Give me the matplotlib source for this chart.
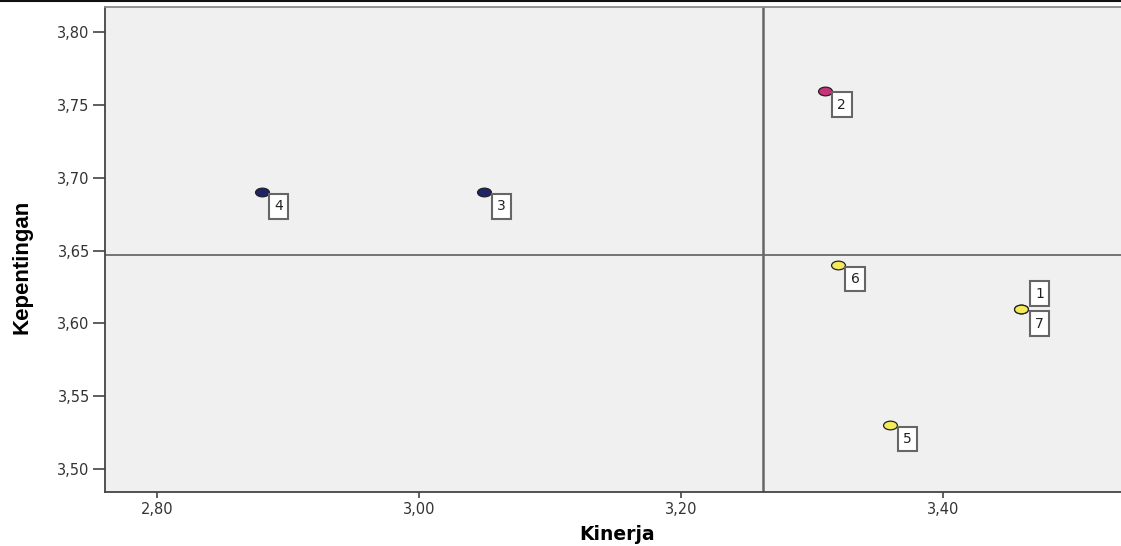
import numpy as np
import matplotlib.pyplot as plt
from matplotlib.path import Path
from matplotlib.transforms import Affine2D
from matplotlib.lines import Line2D

# Data (Importance-Performance analysis)
labels = ['1', '2', '3', '4', '5', '6', '7']
kinerja = [3.46, 3.31, 3.05, 2.88, 3.36, 3.32, 3.46]
kepentingan = [3.61, 3.76, 3.69, 3.69, 3.53, 3.64, 3.61]
kuadran = ['C', 'B', 'A', 'A', 'C', 'C', 'C']

x_ticks = [2.80, 3.00, 3.20, 3.40]
y_ticks = [3.50, 3.55, 3.60, 3.65, 3.70, 3.75, 3.80]

# Styling
colors = {'A': '#1e2468', 'B': '#c8327a', 'C': '#f4ea5a'}
label_offsets = {'1': (18, 15), '7': (18, -15)}   # pixels, others go down-right
default_offset = (17, -14)
tick_font = 'DejaVu Sans'

# oval marker like SPSS
oval = Path.unit_circle().transformed(Affine2D().scale(1.6, 1.0))

W, H = 1121, 546
fig = plt.figure(figsize=(W / 100, H / 100), dpi=100)
ax = fig.add_axes([105 / W, 54 / H, 1 - 105 / W + 0.01, (492 - 7) / H])
ax.set_facecolor('#f0f0f0')

ax.set_xlim(2.7605, 3.5446)
ax.set_ylim(3.484, 3.8174)

# mean reference lines
ax.axvline(np.mean(kinerja), color='#666666', lw=1.8, zorder=1)
ax.axhline(np.mean(kepentingan), color='#6a6a6a', lw=1.3, zorder=1)

for lab, x, y, q in zip(labels, kinerja, kepentingan, kuadran):
    ax.plot(x, y, marker=oval, ms=10, color=colors[q], mec='#222222',
            mew=0.9, ls='none', zorder=3)
    off = label_offsets.get(lab, default_offset)
    ax.annotate(lab, (x, y), xytext=off, textcoords='offset pixels',
                ha='center', va='center', fontsize=10, family=tick_font,
                color='#222222', zorder=4,
                bbox=dict(boxstyle='square,pad=0.38', fc='white',
                          ec='#666666', lw=1.5))

ax.set_xticks(x_ticks)
ax.set_xticklabels([f'{v:.2f}'.replace('.', ',') for v in x_ticks])
ax.set_yticks(y_ticks)
ax.set_yticklabels([f'{v:.2f}'.replace('.', ',') for v in y_ticks])
ax.tick_params(axis='x', length=4.5, width=1.1, color='#333333', pad=3,
               labelsize=10.5, labelcolor='#333333')
ax.tick_params(axis='y', length=9, width=1.1, color='#333333', pad=2,
               labelsize=10.5, labelcolor='#333333')
for t in ax.get_xticklabels() + ax.get_yticklabels():
    t.set_family(tick_font)

for side in ['left', 'bottom', 'top']:
    ax.spines[side].set_color('#444444')
    ax.spines[side].set_linewidth(1.3)
ax.spines['top'].set_color('#8a8a8a')
ax.spines['right'].set_visible(False)

fig.text(617 / W, 1 - 534 / H, 'Kinerja', ha='center', va='center',
         fontsize=13.5, fontweight='bold', family='DejaVu Sans')
fig.text(22 / W, 1 - 267 / H, 'Kepentingan', ha='center', va='center',
         rotation=90, fontsize=16, fontweight='bold',
         family=['Liberation Sans', 'DejaVu Sans'])

# thin border line along the top of the image
fig.add_artist(Line2D([0, 1], [1 - 1 / H, 1 - 1 / H], color='#111111',
                      lw=1.5, transform=fig.transFigure))

fig.savefig('out.png', dpi=100)
